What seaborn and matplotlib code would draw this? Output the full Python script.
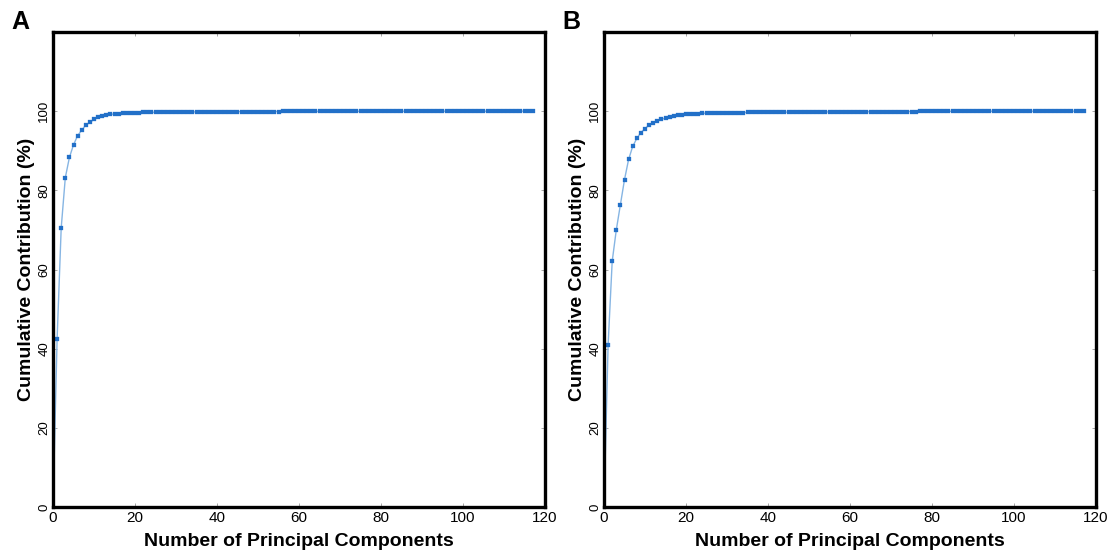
import numpy as np
import pandas as pd
import matplotlib
matplotlib.use("Agg")
import matplotlib.pyplot as plt
import seaborn as sns

# Cumulative contribution (%) for each number of principal components (0..117)
cum_a = [0.0,
         42.4, 70.5, 83.2, 88.3, 91.5, 93.8, 95.2, 96.5, 97.2, 97.9,
         98.4, 98.7, 99.0, 99.2, 99.3, 99.4, 99.5, 99.55, 99.6, 99.63,
         99.66, 99.68, 99.7, 99.72, 99.73, 99.74, 99.75, 99.76, 99.77, 99.78,
         99.78, 99.79, 99.8, 99.8, 99.81, 99.81, 99.82, 99.82, 99.83, 99.85,
         99.86, 99.86, 99.87, 99.87, 99.88, 99.88, 99.88, 99.89, 99.89, 99.89,
         99.9, 99.9, 99.91, 99.91, 99.91, 99.92, 99.92, 99.92, 99.92, 99.93,
         99.93, 99.93, 99.93, 99.94, 99.94, 99.94, 99.94, 99.95, 99.95, 99.95,
         99.95, 99.95, 99.96, 99.96, 99.97, 99.97, 99.97, 99.97, 99.97, 99.98,
         99.98, 99.98, 99.98, 99.98, 99.98, 99.98, 99.98, 99.98, 99.98, 99.98,
         99.98, 99.98, 99.99, 99.99, 99.99, 99.99, 99.99, 99.99, 99.99, 99.99,
         99.99, 99.99, 99.99, 99.99, 99.99, 99.99, 99.99, 99.99, 100.0, 100.0,
         100.0, 100.0, 100.0, 100.0, 100.0, 100.0, 100.0]

cum_b = [0.0,
         40.9, 62.1, 70.0, 76.4, 82.7, 87.8, 91.1, 93.1, 94.6, 95.6,
         96.5, 97.1, 97.5, 97.9, 98.3, 98.6, 98.8, 99.0, 99.1, 99.2,
         99.3, 99.35, 99.4, 99.45, 99.5, 99.52, 99.55, 99.57, 99.6, 99.6,
         99.62, 99.63, 99.65, 99.66, 99.67, 99.68, 99.7, 99.7, 99.71, 99.72,
         99.73, 99.74, 99.74, 99.75, 99.76, 99.76, 99.77, 99.77, 99.78, 99.78,
         99.79, 99.79, 99.8, 99.8, 99.81, 99.81, 99.82, 99.82, 99.83, 99.83,
         99.84, 99.84, 99.85, 99.85, 99.86, 99.86, 99.87, 99.87, 99.88, 99.88,
         99.89, 99.89, 99.9, 99.9, 99.91, 99.91, 99.92, 99.92, 99.93, 99.94,
         99.95, 99.95, 99.96, 99.96, 99.97, 99.97, 99.97, 99.97, 99.98, 99.98,
         99.98, 99.98, 99.98, 99.98, 99.99, 99.99, 99.99, 99.99, 99.99, 99.99,
         99.99, 99.99, 99.99, 99.99, 99.99, 99.99, 99.99, 100.0, 100.0, 100.0,
         100.0, 100.0, 100.0, 100.0, 100.0, 100.0, 100.0]

panel_labels = ["A", "B"]
x_ticks = [0, 20, 40, 60, 80, 100, 120]
y_ticks = [0, 20, 40, 60, 80, 100]
x_label = "Number of Principal Components"
y_label = "Cumulative Contribution (%)"

sns.set_style("ticks")
plt.rcParams["font.family"] = ["Liberation Sans", "DejaVu Sans"]
plt.rcParams["text.color"] = "black"
plt.rcParams["axes.labelcolor"] = "black"
plt.rcParams["xtick.color"] = "black"
plt.rcParams["ytick.color"] = "black"

W, H = 1112, 552
fig = plt.figure(figsize=(W / 100, H / 100), dpi=100)

line_color = "#86b5e3"
marker_color = "#2270c8"

for i, (label, vals) in enumerate(zip(panel_labels, [cum_a, cum_b])):
    left_px = 53 if i == 0 else 604
    ax = fig.add_axes([left_px / W, 45 / H, 492 / W, 475 / H])
    df = pd.DataFrame({"n": np.arange(len(vals)), "cum": vals})
    sns.lineplot(data=df, x="n", y="cum", ax=ax, color=line_color,
                 linewidth=1.0, marker="s", markersize=2.2,
                 markerfacecolor=marker_color, markeredgecolor=marker_color,
                 markeredgewidth=0.2, markevery=slice(1, None))
    ax.set_xlim(0, 120)
    ax.set_ylim(0, 120)
    ax.set_xticks(x_ticks)
    ax.set_yticks(y_ticks)
    ax.set_xticklabels([str(t) for t in x_ticks], fontsize=11)
    ax.set_yticklabels([str(t) for t in y_ticks], fontsize=9.5,
                       rotation=90, va="center")
    ax.tick_params(direction="in", length=3, width=0.6, color="#999999",
                   top=True, right=True, labelcolor="black")
    ax.tick_params(axis="y", pad=2)
    ax.tick_params(axis="x", pad=3)
    for sp in ax.spines.values():
        sp.set_visible(True)
        sp.set_linewidth(2.4)
        sp.set_color("black")
    ax.set_xlabel(x_label, fontsize=14, fontweight="bold", labelpad=6)
    ax.set_ylabel(y_label, fontsize=14, fontweight="bold", labelpad=2)
    fig.text((left_px - 42) / W, 1 - 22 / H, label, fontsize=18,
             fontweight="bold", ha="left", va="center")

fig.savefig("out.png", dpi=100, facecolor="white")
